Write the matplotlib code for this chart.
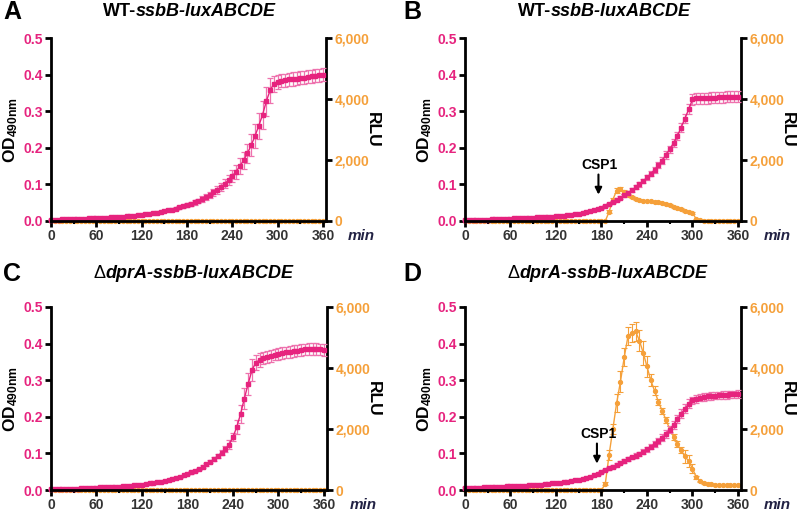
import numpy as np
import matplotlib
matplotlib.use("Agg")
import matplotlib.pyplot as plt
from matplotlib.ticker import MultipleLocator, FixedLocator

plt.rcParams['font.family'] = ['Liberation Sans', 'DejaVu Sans']
plt.rcParams['font.weight'] = 'bold'
plt.rcParams['mathtext.fontset'] = 'custom'
plt.rcParams['mathtext.rm'] = 'Liberation Sans:bold'
plt.rcParams['mathtext.bf'] = 'Liberation Sans:bold'
plt.rcParams['mathtext.it'] = 'Liberation Sans:italic:bold'

# ---------------- data ----------------
time_min = list(range(0, 365, 5))  # 73 time points

od_A = [0.004, 0.004, 0.004, 0.005, 0.005, 0.005, 0.005, 0.006, 0.006, 0.006, 0.007, 0.007, 0.008,
        0.008, 0.009, 0.009, 0.010, 0.011, 0.011, 0.012, 0.013, 0.014, 0.015, 0.016, 0.017,
        0.018, 0.020, 0.021, 0.023, 0.025, 0.027, 0.029, 0.031, 0.034, 0.037, 0.040, 0.043,
        0.047, 0.051, 0.055, 0.060, 0.065, 0.071, 0.078, 0.085, 0.093, 0.102, 0.112, 0.123,
        0.135, 0.150, 0.166, 0.185, 0.207, 0.232, 0.260, 0.290, 0.327, 0.357, 0.375, 0.381,
        0.383, 0.385, 0.387, 0.388, 0.389, 0.391, 0.392, 0.394, 0.395, 0.397, 0.398, 0.400]
od_A_sd = [0.001] * 13 + \
          [0.001, 0.001, 0.001, 0.001, 0.002, 0.002, 0.002, 0.002, 0.002, 0.002, 0.002, 0.002] + \
          [0.002, 0.002, 0.002, 0.003, 0.003, 0.003, 0.003, 0.004, 0.004, 0.004, 0.005, 0.005] + \
          [0.005, 0.006, 0.006, 0.007, 0.008, 0.009, 0.010, 0.011, 0.012, 0.013, 0.015, 0.017] + \
          [0.019, 0.021, 0.023, 0.026, 0.030, 0.033, 0.036, 0.038, 0.040, 0.035, 0.022, 0.019] + \
          [0.018] * 12
rlu_A = [0] * 73
rlu_A_sd = [0] * 73

od_B = [0.003, 0.003, 0.003, 0.004, 0.004, 0.004, 0.004, 0.005, 0.005, 0.005, 0.006, 0.006, 0.006,
        0.007, 0.007, 0.008, 0.008, 0.009, 0.009, 0.010, 0.010, 0.011, 0.012, 0.012, 0.013,
        0.014, 0.015, 0.016, 0.017, 0.019, 0.020, 0.022, 0.024, 0.026, 0.029, 0.032, 0.036,
        0.041, 0.046, 0.052, 0.058, 0.064, 0.070, 0.077, 0.084, 0.092, 0.100, 0.109, 0.119,
        0.129, 0.140, 0.152, 0.165, 0.180, 0.196, 0.213, 0.232, 0.255, 0.280, 0.305, 0.332,
        0.335, 0.335, 0.336, 0.336, 0.337, 0.337, 0.338, 0.338, 0.339, 0.339, 0.340, 0.340]
od_B_sd = [0.001] * 25 + \
          [0.001, 0.001, 0.001, 0.002, 0.002, 0.002, 0.002, 0.002, 0.002, 0.002, 0.003, 0.003] + \
          [0.003, 0.003, 0.004, 0.004, 0.004, 0.004, 0.005, 0.005, 0.005, 0.006, 0.006, 0.007] + \
          [0.007, 0.008, 0.008, 0.009, 0.010, 0.010, 0.011, 0.012, 0.012, 0.013, 0.014, 0.015] + \
          [0.015] * 12
rlu_B = [0] * 38 + \
        [300, 700, 1000, 1050, 960, 850, 780, 730, 700, 670, 650, 640,
         630, 620, 600, 560, 520, 470, 430, 390, 340, 310, 270, 60,
         20, 15, 15, 15, 15, 15, 15, 15, 15, 15, 15]
rlu_B_sd = [0] * 38 + \
           [50, 50, 80, 80, 60, 30, 30, 30, 30, 30, 30, 30,
            30, 30, 30, 30, 30, 30, 30, 30, 30, 30, 30, 20,
            10, 10, 10, 10, 10, 10, 10, 10, 10, 10, 10]

od_C = [0.003, 0.003, 0.003, 0.003, 0.004, 0.004, 0.004, 0.004, 0.005, 0.005, 0.005, 0.006, 0.006,
        0.007, 0.007, 0.008, 0.008, 0.009, 0.009, 0.010, 0.011, 0.012, 0.013, 0.014, 0.015,
        0.016, 0.018, 0.019, 0.021, 0.023, 0.025, 0.027, 0.030, 0.033, 0.036, 0.040, 0.044,
        0.048, 0.053, 0.058, 0.064, 0.070, 0.077, 0.085, 0.093, 0.102, 0.112, 0.124, 0.145,
        0.172, 0.208, 0.250, 0.290, 0.327, 0.348, 0.355, 0.360, 0.364, 0.367, 0.370, 0.372,
        0.374, 0.376, 0.378, 0.380, 0.381, 0.383, 0.384, 0.385, 0.385, 0.385, 0.384, 0.383]
od_C_sd = [0.001] * 25 + [0.002] * 12 + \
          [0.003, 0.003, 0.003, 0.004, 0.004, 0.004, 0.005, 0.005, 0.006, 0.007, 0.012, 0.012] + \
          [0.020, 0.025, 0.030, 0.030, 0.030, 0.020, 0.018, 0.017, 0.017, 0.016, 0.016, 0.016] + \
          [0.016] * 12
rlu_C = [0] * 73
rlu_C_sd = [0] * 73

od_D = [0.005, 0.005, 0.006, 0.006, 0.006, 0.007, 0.007, 0.007, 0.008, 0.008, 0.009, 0.010, 0.010,
        0.011, 0.011, 0.012, 0.012, 0.013, 0.013, 0.014, 0.015, 0.016, 0.017, 0.018, 0.019,
        0.020, 0.021, 0.023, 0.024, 0.026, 0.028, 0.030, 0.033, 0.036, 0.040, 0.044, 0.049,
        0.054, 0.059, 0.064, 0.069, 0.074, 0.079, 0.084, 0.089, 0.094, 0.099, 0.105, 0.111,
        0.118, 0.126, 0.134, 0.143, 0.153, 0.165, 0.178, 0.193, 0.208, 0.222, 0.236, 0.245,
        0.249, 0.252, 0.254, 0.256, 0.257, 0.258, 0.259, 0.260, 0.260, 0.261, 0.261, 0.262]
od_D_sd = [0.002] * 37 + \
          [0.003, 0.003, 0.004, 0.004, 0.004, 0.005, 0.005, 0.005, 0.006, 0.006, 0.006, 0.007] + \
          [0.007, 0.008, 0.008, 0.009, 0.010, 0.010, 0.011, 0.011, 0.012, 0.012, 0.012, 0.010] + \
          [0.010] * 12
rlu_D = [0] * 37 + \
        [200, 1150, 2000, 2850, 3550, 4350, 5050, 5150, 5200, 4900, 4500, 4050,
         3600, 3250, 2900, 2600, 2300, 2000, 1750, 1500, 1300, 1100, 950, 700,
         420, 280, 230, 200, 185, 175, 165, 160, 155, 150, 150, 150]
rlu_D_sd = [0] * 37 + \
           [50, 150, 150, 300, 350, 300, 300, 300, 300, 350, 400, 350,
            200, 150, 100, 100, 100, 100, 100, 100, 100, 200, 200, 150,
            50, 20, 20, 20, 20, 20, 20, 20, 20, 20, 20, 20]

panel_letters = ['A', 'B', 'C', 'D']
title_prefix = ['WT-', 'WT-', '\u0394', '\u0394']
title_italic = ['ssbB-luxABCDE', 'ssbB-luxABCDE', 'dprA-ssbB-luxABCDE', 'dprA-ssbB-luxABCDE']
csp1_time = [None, 176, None, 174]
od_ticks = [0.0, 0.1, 0.2, 0.3, 0.4, 0.5]
rlu_ticks = [0, 2000, 4000, 6000]
rlu_ticklabels = ['0', '2,000', '4,000', '6,000']
time_ticks = [0, 60, 120, 180, 240, 300, 360]

PINK = '#E6237E'
PINK_ERR = '#EE72AE'
ORANGE = '#F5A03A'
XTICK_COL = '#333333'

W, H = 800, 513
fig = plt.figure(figsize=(8.0, 5.13), dpi=100)

# axes boxes in pixel coordinates: (left, right, top, bottom)
boxes = [(51, 326, 38, 221), (465, 741, 38, 221), (51, 327, 307, 490), (465, 741, 307, 490)]
letter_x = [3, 403, 3, 403]
title_left = [103, 518, 93, 507]
title_y = [12, 12, 274, 274]

panels = [(od_A, od_A_sd, rlu_A, rlu_A_sd), (od_B, od_B_sd, rlu_B, rlu_B_sd),
          (od_C, od_C_sd, rlu_C, rlu_C_sd), (od_D, od_D_sd, rlu_D, rlu_D_sd)]

for i, (od, od_sd, rlu, rlu_sd) in enumerate(panels):
    l, r, t, b = boxes[i]
    ax = fig.add_axes([l / W, 1 - b / H, (r - l) / W, (b - t) / H])
    ax2 = ax.twinx()
    ax.set_zorder(ax2.get_zorder() + 1)
    ax.patch.set_visible(False)

    # orange RLU on right axis
    ax2.errorbar(time_min, rlu, yerr=rlu_sd, color=ORANGE, ecolor=ORANGE, lw=1.0,
                 marker='o', ms=2.8, elinewidth=0.8, capsize=2, capthick=0.8, clip_on=False)
    # pink OD on left axis
    ax.errorbar(time_min, od, yerr=od_sd, color=PINK, ecolor=PINK_ERR, lw=1.0,
                marker='s', ms=3.2, elinewidth=0.9, capsize=2, capthick=0.9, clip_on=False)

    ax.set_xlim(0, 364)
    ax.set_ylim(0, 0.5)
    ax2.set_ylim(0, 6000)

    ax.spines['top'].set_visible(False)
    ax2.spines['top'].set_visible(False)
    ax.spines['right'].set_visible(False)
    ax2.spines['left'].set_visible(False)
    ax2.spines['bottom'].set_visible(False)
    for sp in [ax.spines['left'], ax.spines['bottom'], ax2.spines['right']]:
        sp.set_linewidth(2.0)
        sp.set_color('black')

    ax.xaxis.set_major_locator(FixedLocator(time_ticks))
    ax.xaxis.set_minor_locator(MultipleLocator(30))
    ax.set_xticklabels([str(v) for v in time_ticks], fontsize=10, fontweight='bold', color=XTICK_COL)
    ax.yaxis.set_major_locator(FixedLocator(od_ticks))
    ax.set_yticklabels(['%.1f' % v for v in od_ticks], fontsize=10, fontweight='bold', color=PINK)
    ax2.yaxis.set_major_locator(FixedLocator(rlu_ticks))
    ax2.set_yticklabels(rlu_ticklabels, fontsize=10, fontweight='bold', color=ORANGE)

    ax.tick_params(axis='both', which='major', direction='out', length=4, width=2, color='black', pad=2)
    ax.tick_params(axis='x', which='minor', direction='out', length=2.5, width=1.5, color='black')
    ax.tick_params(axis='x', which='major', pad=1.5)
    ax2.tick_params(axis='y', which='major', direction='out', length=4, width=2, color='black', pad=2)

    ax.set_ylabel(r'OD$_{\mathrm{490nm}}$', fontsize=12.5, fontweight='bold', color='black', labelpad=2)
    ax2.set_ylabel('RLU', fontsize=12.5, fontweight='bold', color='black', rotation=270,
                   labelpad=8)
    ax.text(1.13, -0.08, 'min', transform=ax.transAxes, ha='center', va='center',
            fontsize=11, fontstyle='italic', fontweight='bold', color='#222244')

    # panel letter
    fig.text(letter_x[i] / W, 1 - title_y[i] / H, panel_letters[i], fontsize=18, fontweight='bold',
             ha='left', va='center')
    # title: normal prefix + italic rest
    pre_w = 'bold' if title_prefix[i] == 'WT-' else 'normal'
    t1 = fig.text(title_left[i] / W, 1 - title_y[i] / H, title_prefix[i], fontsize=13,
                  fontweight=pre_w, ha='left', va='center')
    ax.annotate(title_italic[i], xy=(1, 0.5), xycoords=t1, ha='left', va='center',
                fontsize=13, fontweight='bold', fontstyle='italic', annotation_clip=False)

    if csp1_time[i] is not None:
        ct = csp1_time[i]
        ax.annotate('', xy=(ct, 0.072), xytext=(ct, 0.127),
                    arrowprops=dict(arrowstyle='-|>', color='black', lw=1.5,
                                    mutation_scale=10, shrinkA=0, shrinkB=0))
        ax.text(ct + 2, 0.152, 'CSP1', ha='center', va='center', fontsize=10,
                fontweight='bold', color='black')

fig.savefig('out.png', dpi=100)
